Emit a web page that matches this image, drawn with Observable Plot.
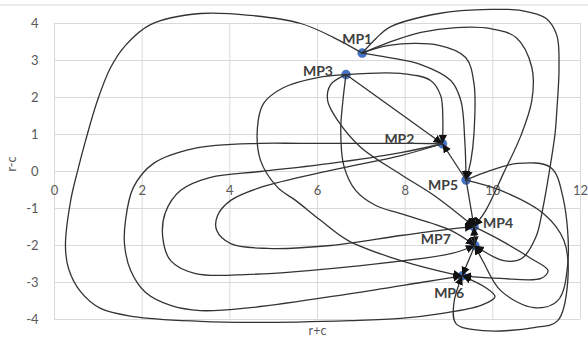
<!DOCTYPE html>
<html><head><meta charset="utf-8">
<script src="https://cdn.jsdelivr.net/npm/d3@7"></script>
<script src="https://cdn.jsdelivr.net/npm/@observablehq/plot@0.6"></script>
<style>
html,body{margin:0;padding:0;background:#fff;}
#chart{position:relative;width:588px;height:338px;overflow:hidden;}
#topline{position:absolute;left:0;top:4px;width:588px;height:2px;background:#ebebeb;}
</style></head><body>
<div id="chart"><div id="topline"></div></div>
<script>
// ---- data ----
const names   = ["MP1","MP2","MP3","MP4","MP5","MP6","MP7"];
const rPlusC  = [7.02, 8.85, 6.65, 9.57, 9.39, 9.30, 9.59];
const rMinusC = [3.20, 0.75, 2.62, -1.49, -0.23, -2.82, -2.00];
const xTicks = [0, 2, 4, 6, 8, 10, 12];
const yTicks = [-4, -3, -2, -1, 0, 1, 2, 3, 4];
const xTitle = "r+c";
const yTitle = "r-c";

// causal arrows: source, target, and intermediate waypoints [r+c, r-c]
const arrowFrom = ["MP1","MP1","MP1","MP1","MP1","MP3","MP3","MP3","MP3","MP3","MP2","MP2","MP2","MP5","MP5","MP4","MP5","MP5","MP4","MP7","MP7"];
const arrowTo   = ["MP6","MP7","MP4","MP5","MP5","MP2","MP2","MP6","MP7","MP4","MP6","MP7","MP4","MP7","MP6","MP6","MP2","MP4","MP7","MP6","MP4"];
const arrowVia = [
  [[6.37,3.62],[5.62,4.0],[4.47,4.22],[3.33,4.27],[2.19,3.97],[1.62,3.41],[1.28,2.81],[0.98,1.92],[0.71,0.84],[0.53,0.03],[0.37,-0.78],[0.25,-2.0],[0.32,-2.62],[0.59,-3.24],[1.05,-3.70],[1.80,-3.92],[3.33,-4.05],[4.47,-4.08],[6.76,-4.03],[7.90,-3.97],[8.81,-3.84],[9.73,-3.62],[10.05,-3.38],[9.84,-3.14]],
  [[7.33,3.59],[7.63,3.89],[8.77,4.27],[9.95,4.38],[10.66,4.35],[11.21,4.14],[11.46,3.68],[11.51,2.81],[11.46,1.65],[11.42,1.03],[11.30,0.08],[11.14,-1.0],[10.98,-1.78],[10.66,-2.35],[10.25,-2.41]],
  [[7.63,3.49],[8.36,3.76],[9.16,3.89],[9.95,3.86],[10.53,3.62],[10.89,2.81],[10.89,1.92],[10.64,0.97],[10.25,-0.03],[9.84,-1.05]],
  [[7.63,3.41],[8.77,3.41],[9.38,3.08],[9.57,2.38],[9.57,1.03],[9.50,0.30]],
  [[7.63,3.08],[8.36,2.89],[9.04,2.46],[9.27,1.92],[9.36,0.84]],
  [],
  [[7.90,2.65],[8.58,2.46],[8.81,2.05],[8.86,1.38]],
  [[6.00,2.54],[5.23,2.27],[4.77,1.84],[4.63,1.19],[4.70,0.30],[5.09,-0.43],[5.50,-0.78],[6.07,-1.32],[6.69,-1.86],[7.67,-2.32],[8.81,-2.70]],
  [[6.58,1.92],[6.53,1.11],[6.60,0.16],[6.87,-0.51],[7.33,-0.92],[7.90,-1.14],[9.04,-1.59]],
  [[6.30,2.35],[6.23,1.92],[6.46,1.38],[6.99,0.65],[7.90,-0.08],[8.70,-0.68]],
  [[7.90,0.76],[5.62,0.76],[4.70,0.76],[3.17,0.62],[2.26,0.22],[1.80,-0.43],[1.62,-1.32],[1.60,-2.0],[1.74,-2.68],[2.08,-3.27],[2.65,-3.62],[3.33,-3.76],[4.47,-3.68],[6.76,-3.30],[8.36,-3.0]],
  [[7.90,0.51],[6.30,0.22],[4.70,0.0],[3.56,-0.16],[2.88,-0.51],[2.53,-1.11],[2.47,-1.78],[2.65,-2.41],[3.22,-2.76],[4.47,-2.78],[6.76,-2.57],[9.04,-2.22]],
  [[7.90,0.43],[6.30,0.03],[4.70,-0.43],[4.02,-0.78],[3.72,-1.19],[3.70,-1.59],[4.02,-1.95],[4.86,-2.08],[6.30,-2.0],[7.90,-1.73],[8.93,-1.57]],
  [[9.95,0.03],[10.57,0.22],[11.32,0.11],[11.60,-0.70],[11.71,-2.49],[11.48,-3.49],[10.94,-3.68],[10.18,-3.22],[9.79,-2.46]],
  [[10.18,-0.51],[11.16,-1.14],[11.62,-1.86],[11.71,-2.95],[11.48,-4.03],[10.94,-4.22],[9.79,-4.30],[9.16,-4.11],[9.11,-3.57]],
  [[10.18,-1.86],[10.87,-2.35],[11.26,-2.68],[11.10,-2.89],[10.18,-2.89]],
  [],[],[],[],[]
];

// ---- build tables ----
const nodes = names.map((n, i) => ({name: n, x: rPlusC[i], y: rMinusC[i]}));
const nodeOf = Object.fromEntries(nodes.map(d => [d.name, d]));
const pathPts = [];
arrowFrom.forEach((f, i) => {
  const a = nodeOf[f], b = nodeOf[arrowTo[i]];
  const pts = [[a.x, a.y], ...arrowVia[i], [b.x, b.y]];
  pts.forEach(([x, y], k) => pathPts.push({id: i, k, x, y}));
});

// label placement (layout, not data)
const labelPlace = {
  MP1: {anchor: "middle", dx: -5,  dy: -14},
  MP3: {anchor: "end",    dx: -13, dy: -3},
  MP2: {anchor: "end",    dx: -28, dy: -4},
  MP5: {anchor: "end",    dx: -8,  dy: 6},
  MP4: {anchor: "start",  dx: 9,   dy: -3},
  MP7: {anchor: "end",    dx: -24, dy: -6},
  MP6: {anchor: "middle", dx: -13, dy: 18}
};

const grid = "#d9d9d9", tickCol = "#595959";
const labelMarks = nodes.map(d => Plot.text([d], {
  x: "x", y: "y", text: "name",
  textAnchor: labelPlace[d.name].anchor, dx: labelPlace[d.name].dx, dy: labelPlace[d.name].dy,
  fontSize: 14, fontWeight: "bold", fill: "#404040"
}));

const plot = Plot.plot({
  width: 588, height: 338,
  marginLeft: 54, marginRight: 8, marginTop: 23, marginBottom: 19,
  x: {domain: [0, 12], axis: null},
  y: {domain: [-4, 4], axis: null},
  style: {fontFamily: "Lato, 'Open Sans', sans-serif", background: "transparent", overflow: "visible"},
  marks: [
    Plot.ruleY(yTicks, {y: d => d, x1: 0, x2: 12, stroke: grid, strokeWidth: 1}),
    Plot.ruleX(xTicks, {x: d => d, y1: -4, y2: 4, stroke: grid, strokeWidth: 1}),
    Plot.text(yTicks, {x: 0, y: d => d, text: d => String(d), dx: -16, textAnchor: "end", fill: tickCol, fontSize: 13}),
    Plot.text(xTicks, {x: d => d, y: 0, text: d => String(d), dy: 19, fill: tickCol, fontSize: 13}),
    Plot.text([xTitle], {frameAnchor: "bottom", lineAnchor: "middle", dy: 11, text: d => d, fill: tickCol, fontSize: 12.5}),
    Plot.text([yTitle], {frameAnchor: "left", lineAnchor: "middle", dx: -43, rotate: -90, text: d => d, fill: tickCol, fontSize: 12.5}),
    Plot.dot(nodes, {x: "x", y: "y", r: 4.5, fill: "#4472C4", stroke: "#3a66b5", strokeWidth: 0.5}),
    Plot.line(pathPts, {x: "x", y: "y", z: "id", curve: "catmull-rom", stroke: "#333", strokeWidth: 1.3, markerEnd: "arrow"}),
    ...labelMarks
  ]
});

d3.select(plot).selectAll("marker").each(function() {
  const m = d3.select(this);
  m.attr("viewBox", "-9 -5 10 10").attr("markerUnits", "userSpaceOnUse")
   .attr("markerWidth", 10).attr("markerHeight", 10)
   .attr("fill", "#111").attr("stroke", "none");
  m.selectAll("path").attr("d", "M-9,-4.2L0,0L-9,4.2Z");
});

document.getElementById("chart").appendChild(plot);
</script>
</body></html>
